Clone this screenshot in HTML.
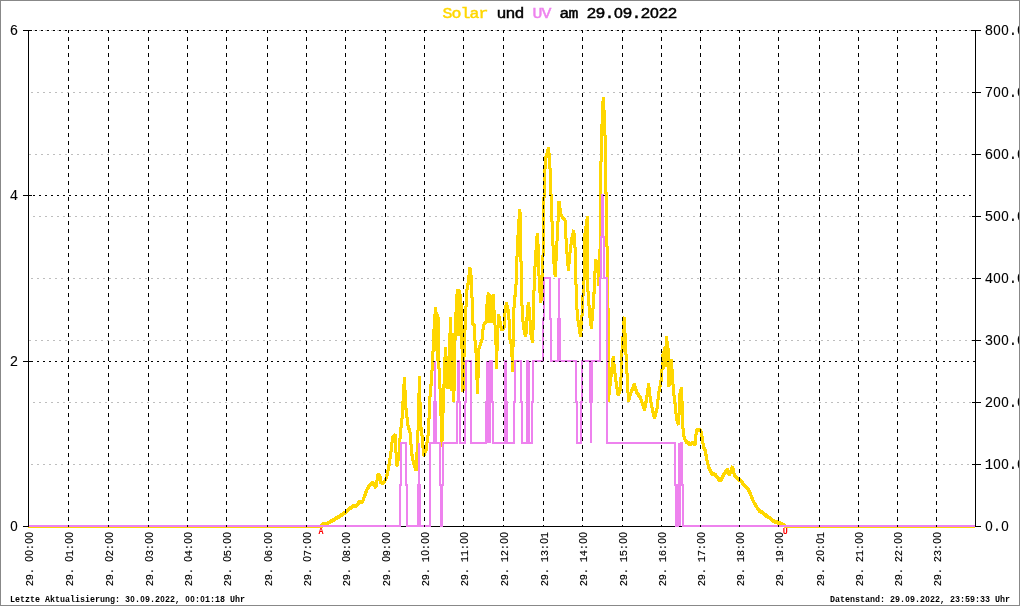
<!DOCTYPE html>
<html lang="de"><head><meta charset="utf-8"><title>Solar und UV am 29.09.2022</title>
<style>
html,body{margin:0;padding:0;background:#fff;}
body{width:1020px;height:606px;overflow:hidden;position:relative;font-family:"Liberation Mono","DejaVu Sans Mono",monospace;}
svg{will-change:transform;position:absolute;left:0;top:0;display:block;}
text{font-family:"Liberation Mono","DejaVu Sans Mono",monospace;fill:#000;}
</style></head><body>
<svg width="1020" height="606" viewBox="0 0 1020 606">
<rect x="0" y="0" width="1020" height="606" fill="#fff"/>
<g shape-rendering="crispEdges" fill="none">
<line x1="29" y1="92.5" x2="975" y2="92.5" stroke="#bebebe" stroke-dasharray="2 4" stroke-dashoffset="4"/>
<line x1="29" y1="154.5" x2="975" y2="154.5" stroke="#bebebe" stroke-dasharray="2 4" stroke-dashoffset="0"/>
<line x1="29" y1="216.5" x2="975" y2="216.5" stroke="#bebebe" stroke-dasharray="2 4" stroke-dashoffset="2"/>
<line x1="29" y1="278.5" x2="975" y2="278.5" stroke="#bebebe" stroke-dasharray="2 4" stroke-dashoffset="4"/>
<line x1="29" y1="340.5" x2="975" y2="340.5" stroke="#bebebe" stroke-dasharray="2 4" stroke-dashoffset="0"/>
<line x1="29" y1="402.5" x2="975" y2="402.5" stroke="#bebebe" stroke-dasharray="2 4" stroke-dashoffset="2"/>
<line x1="29" y1="464.5" x2="975" y2="464.5" stroke="#bebebe" stroke-dasharray="2 4" stroke-dashoffset="4"/>
<line x1="23" y1="30.5" x2="32" y2="30.5" stroke="#000"/>
<line x1="23" y1="195.5" x2="32" y2="195.5" stroke="#000"/>
<line x1="23" y1="361.5" x2="32" y2="361.5" stroke="#000"/>
<line x1="23" y1="526.5" x2="32" y2="526.5" stroke="#000"/>
<line x1="972" y1="30.5" x2="981" y2="30.5" stroke="#000"/>
<line x1="972" y1="92.5" x2="981" y2="92.5" stroke="#000"/>
<line x1="972" y1="154.5" x2="981" y2="154.5" stroke="#000"/>
<line x1="972" y1="216.5" x2="981" y2="216.5" stroke="#000"/>
<line x1="972" y1="278.5" x2="981" y2="278.5" stroke="#000"/>
<line x1="972" y1="340.5" x2="981" y2="340.5" stroke="#000"/>
<line x1="972" y1="402.5" x2="981" y2="402.5" stroke="#000"/>
<line x1="972" y1="464.5" x2="981" y2="464.5" stroke="#000"/>
<line x1="972" y1="526.5" x2="981" y2="526.5" stroke="#000"/>
</g>
<g shape-rendering="crispEdges" fill="none"><line x1="28" y1="526.5" x2="976" y2="526.5" stroke="#000"/></g>
<g fill="none" stroke="#ffd700" stroke-width="3" stroke-linejoin="bevel" shape-rendering="crispEdges">
<line x1="28" y1="526.5" x2="322" y2="526.5"/><line x1="784" y1="526.5" x2="975" y2="526.5"/>
<polyline points="321,526 322.5,524.5 323.5,523.3 324.5,524.3 326,523.7 330.4,521.3 338.8,516.2 345.3,512.1 349.5,508.4 353.6,504.8 356,506 359.6,501.2 362.5,501.2 364.9,494.7 367.3,488.2 370.2,484 372.6,481.9 375.8,487 378,474.5 379.7,474.5 380.9,482.2 383.9,482.2 386.3,477.5 388.1,469.8 389.9,459.1 390.9,451.8 392.7,436.3 395.1,434.5 395.7,447 396.9,465.4 398.7,456.5 400.4,432.8 402.2,416.1 404.4,377.3 405.8,406.6 408.2,426.8 409.9,430.4 411.7,453 413.5,462.5 416.1,469.6 417.3,447 418.3,423.3 418.9,399.5 419.3,376 420.6,423.3 422.4,438.7 423.6,455.3 426,449.5 428.4,432.5 429.8,398.9 431.5,378.7 432.7,358.5 434,329.5 435.5,306.8 436.2,349.5 437,312.5 437.7,359.5 438.5,317.5 438.8,363.5 439.6,379.5 440.6,399.5 441.8,445.5 443.5,399.5 444,384.5 445.4,346.6 446.2,386.5 447,356.5 447.8,387.5 448.6,356.5 449.4,387.5 449.8,339.5 450.5,317.5 451.8,389.5 453,333.5 453.8,401.3 455,339.5 456.5,299.5 457.5,288.8 458.2,334.5 459,288.8 459.8,329.5 460.5,294.5 461.5,311.5 461.7,334.5 462.5,369.5 463,390.5 463.6,369.5 464.5,339.5 465.4,321.1 466.6,291.4 467.8,285.4 469.9,266.9 471.7,279.5 471.9,291.4 472.5,323.5 474.5,324.5 474.9,338.9 476,351.5 477.5,392.5 479,347.8 482,338.9 483.2,327 484.4,322.9 486.2,321.1 486.8,304.5 487.4,321.5 488,295.5 488.6,292.6 489.3,321.5 490,294.5 490.7,321.5 491.4,296.5 492.1,321.5 492.7,296.5 493.3,294.4 493.9,319.5 494.5,310.4 495.1,327 496,344.3 496.5,367.5 497.3,339.5 498.7,314.5 500.4,323.5 501.6,329.4 504,327 505,311.5 506.4,302.7 508.2,310.4 509.4,323.5 509.9,338.9 511.7,344.3 512.4,370.5 513.5,327 514.1,303.3 515.9,287.8 516.9,258.3 518.5,224.5 519.9,208.8 520.7,229.5 521.2,279.5 521.8,302.1 523,321.1 524.2,330.6 525.4,335.9 526.6,329.4 527.2,311.6 528.4,302.7 529.5,310.4 530.7,331.8 532.5,341.9 533.1,327 533.7,301.5 534.3,279.5 535.4,258.3 537.2,233.5 538.5,249.5 539.1,279.5 540.8,302.1 542.5,284.5 543.3,239.5 543.6,208.8 545.3,159.3 548.6,147 550.3,171.6 551.5,208.8 552.8,240.9 554,263.2 555.2,275.6 557,240.9 559,201.3 560.9,213.7 562.7,217.4 565.1,219.9 566.4,245.9 568.4,269.4 570.1,250.8 571.8,238.5 573.8,229.8 575.5,253.3 576.1,288.9 577.3,315 579.1,326.9 580.6,335.8 582,315 583.2,291.3 584.4,273.5 585,233.5 587.4,216.2 588,291.3 589.8,315 591.3,327.5 592.7,312.5 593.9,294.8 595.6,259.5 598.1,263.2 599,284.5 599.8,269.5 600.2,233.5 600.8,169.5 601.3,149.5 602,124.5 603,101.5 603.4,97 604,109.5 604.8,124.5 605.3,149.5 605.8,179.5 606.3,211.5 607,245.5 607.8,284.5 608.2,329.5 608.2,400.8 610.7,378.5 613.2,356.2 615.6,378.5 618.1,394.6 620.6,388.4 621.8,353.8 624.3,316.6 625.5,343.9 627.3,378.5 628.5,400.8 630.5,393.4 634.3,383.5 636.7,392.1 640.4,397.1 644.6,409.5 646.6,398.3 648.6,383.5 650.3,398.3 652.8,410.7 654.5,418.1 657,408.2 659,390.9 661.4,378.5 663.2,351.3 663.9,367.5 664.6,347.5 665.3,365.5 666.4,336.4 668.4,351.3 668.9,385.9 671.3,358.7 673.3,388.4 675,403.3 676.7,419.1 678.7,424.1 679.7,394.4 681.7,386.9 682.4,416.6 683.3,433.5 684.9,438.9 686.1,441.3 688,442 690.3,444.2 692.7,442.1 695,444.2 695.6,436.5 696.8,430 698.6,429 701,430.6 702.4,438.9 703.4,446 705.1,449.5 707.1,460.7 709.5,469 711.9,473.2 715.4,474.4 719,479.1 720.8,480.3 723.2,474.9 725.5,471.4 727.3,469 729.1,474.4 730.9,470.2 732.7,466 733.9,472.6 735,475.5 738,478.5 741,480.3 744,484.5 747.5,488 749.3,490.4 751.1,495.1 753.5,501.1 757,507 759.4,510.6 763,512.4 766.5,515.4 770.1,517.7 773.7,520.7 777.2,521.9 780.8,523.1 784.4,524.5 785.5,526"/>
<polyline points="321,527 322.5,525.5 323.5,524.3 324.5,525.3 326,524.7 330.4,522.3 338.8,517.2 345.3,513.1 349.5,509.4 353.6,505.8 356,507 359.6,502.2 362.5,502.2 364.9,495.7 367.3,489.2 370.2,485 372.6,482.9 375.8,488 378,475.5 379.7,475.5 380.9,483.2 383.9,483.2 386.3,478.5 388.1,470.8 389.9,460.1 390.9,452.8 392.7,437.3 395.1,435.5 395.7,448 396.9,466.4 398.7,457.5 400.4,433.8 402.2,417.1 404.4,378.3 405.8,407.6 408.2,427.8 409.9,431.4 411.7,454 413.5,463.5 416.1,470.6 417.3,448 418.3,424.3 418.9,400.5 419.3,377 420.6,424.3 422.4,439.7 423.6,456.3 426,450.5 428.4,433.5 429.8,399.9 431.5,379.7 432.7,359.5 434,330.5 435.5,307.8 436.2,350.5 437,313.5 437.7,360.5 438.5,318.5 438.8,364.5 439.6,380.5 440.6,400.5 441.8,446.5 443.5,400.5 444,385.5 445.4,347.6 446.2,387.5 447,357.5 447.8,388.5 448.6,357.5 449.4,388.5 449.8,340.5 450.5,318.5 451.8,390.5 453,334.5 453.8,402.3 455,340.5 456.5,300.5 457.5,289.8 458.2,335.5 459,289.8 459.8,330.5 460.5,295.5 461.5,312.5 461.7,335.5 462.5,370.5 463,391.5 463.6,370.5 464.5,340.5 465.4,322.1 466.6,292.4 467.8,286.4 469.9,267.9 471.7,280.5 471.9,292.4 472.5,324.5 474.5,325.5 474.9,339.9 476,352.5 477.5,393.5 479,348.8 482,339.9 483.2,328 484.4,323.9 486.2,322.1 486.8,305.5 487.4,322.5 488,296.5 488.6,293.6 489.3,322.5 490,295.5 490.7,322.5 491.4,297.5 492.1,322.5 492.7,297.5 493.3,295.4 493.9,320.5 494.5,311.4 495.1,328 496,345.3 496.5,368.5 497.3,340.5 498.7,315.5 500.4,324.5 501.6,330.4 504,328 505,312.5 506.4,303.7 508.2,311.4 509.4,324.5 509.9,339.9 511.7,345.3 512.4,371.5 513.5,328 514.1,304.3 515.9,288.8 516.9,259.3 518.5,225.5 519.9,209.8 520.7,230.5 521.2,280.5 521.8,303.1 523,322.1 524.2,331.6 525.4,336.9 526.6,330.4 527.2,312.6 528.4,303.7 529.5,311.4 530.7,332.8 532.5,342.9 533.1,328 533.7,302.5 534.3,280.5 535.4,259.3 537.2,234.5 538.5,250.5 539.1,280.5 540.8,303.1 542.5,285.5 543.3,240.5 543.6,209.8 545.3,160.3 548.6,148 550.3,172.6 551.5,209.8 552.8,241.9 554,264.2 555.2,276.6 557,241.9 559,202.3 560.9,214.7 562.7,218.4 565.1,220.9 566.4,246.9 568.4,270.4 570.1,251.8 571.8,239.5 573.8,230.8 575.5,254.3 576.1,289.9 577.3,316 579.1,327.9 580.6,336.8 582,316 583.2,292.3 584.4,274.5 585,234.5 587.4,217.2 588,292.3 589.8,316 591.3,328.5 592.7,313.5 593.9,295.8 595.6,260.5 598.1,264.2 599,285.5 599.8,270.5 600.2,234.5 600.8,170.5 601.3,150.5 602,125.5 603,102.5 603.4,98 604,110.5 604.8,125.5 605.3,150.5 605.8,180.5 606.3,212.5 607,246.5 607.8,285.5 608.2,330.5 608.2,401.8 610.7,379.5 613.2,357.2 615.6,379.5 618.1,395.6 620.6,389.4 621.8,354.8 624.3,317.6 625.5,344.9 627.3,379.5 628.5,401.8 630.5,394.4 634.3,384.5 636.7,393.1 640.4,398.1 644.6,410.5 646.6,399.3 648.6,384.5 650.3,399.3 652.8,411.7 654.5,419.1 657,409.2 659,391.9 661.4,379.5 663.2,352.3 663.9,368.5 664.6,348.5 665.3,366.5 666.4,337.4 668.4,352.3 668.9,386.9 671.3,359.7 673.3,389.4 675,404.3 676.7,420.1 678.7,425.1 679.7,395.4 681.7,387.9 682.4,417.6 683.3,434.5 684.9,439.9 686.1,442.3 688,443 690.3,445.2 692.7,443.1 695,445.2 695.6,437.5 696.8,431 698.6,430 701,431.6 702.4,439.9 703.4,447 705.1,450.5 707.1,461.7 709.5,470 711.9,474.2 715.4,475.4 719,480.1 720.8,481.3 723.2,475.9 725.5,472.4 727.3,470 729.1,475.4 730.9,471.2 732.7,467 733.9,473.6 735,476.5 738,479.5 741,481.3 744,485.5 747.5,489 749.3,491.4 751.1,496.1 753.5,502.1 757,508 759.4,511.6 763,513.4 766.5,516.4 770.1,518.7 773.7,521.7 777.2,522.9 780.8,524.1 784.4,525.5 785.5,527"/>
</g>
<polyline points="28,526 400,526 400,485 401,485 401,443.2 406,443.2 406,485 407,485 407,526 418,526 418,485 419,485 419,443.2 419,443.2 419,485 420,485 420,526 430,526 430,443.2 434,443.2 434,402 435,402 435,360.6 435,360.6 435,402 436,402 436,443.2 440,443.2 440,485 441,485 441,526 442,526 442,485 443,485 443,443.2 457,443.2 457,402 458,402 458,360.6 459,360.6 459,402 460,402 460,443.2 465,443.2 465,402 466,402 466,360.6 471,360.6 471,443.2 486,443.2 486,402 487,402 487,360.6 487,360.6 487,402 488,402 488,443.2 488,443.2 488,402 489,402 489,360.6 489,360.6 489,402 490,402 490,443.2 490,443.2 490,360.6 492,360.6 492,402 493,402 493,443.2 505,443.2 505,360.6 506,360.6 506,402 507,402 507,443.2 514,443.2 514,402 515,402 515,360.6 521,360.6 521,402 522,402 522,443.2 527,443.2 527,360.6 528,360.6 528,443.2 528,443.2 528,402 529,402 529,360.6 529,360.6 529,443.2 532,443.2 532,402 533,402 533,360.6 543,360.6 543,319 544,319 544,278 550,278 550,319 551,319 551,360.6 558,360.6 558,319 559,319 559,278 559,278 559,319 560,319 560,360.6 576,360.6 576,402 577,402 577,443.2 581,443.2 581,402 582,402 582,360.6 590,360.6 590,402 591,402 591,443.2 591,443.2 591,402 592,402 592,360.6 600,360.6 600,278 601,278 601,237 602,237 602,195.3 603,195.3 603,237 604,237 604,278 607,278 607,443.2 675,443.2 675,485 676,485 676,526 678,526 678,485 679,485 679,443.2 679,443.2 679,485 680,485 680,526 680,526 680,485 681,485 681,443.2 682,443.2 682,485 683,485 683,526 975,526" fill="none" stroke="#ee82ee" stroke-width="2" stroke-linejoin="miter" shape-rendering="crispEdges"/>
<g shape-rendering="crispEdges" fill="none">
<line x1="33" y1="30.5" x2="975" y2="30.5" stroke="#c8c8c8" stroke-dasharray="2 4"/>
<line x1="29" y1="30.5" x2="975" y2="30.5" stroke="#000" stroke-dasharray="2 4" stroke-dashoffset="0"/>
<line x1="29" y1="195.5" x2="975" y2="195.5" stroke="#000" stroke-dasharray="2 4" stroke-dashoffset="2"/>
<line x1="29" y1="361.5" x2="975" y2="361.5" stroke="#000" stroke-dasharray="2 4" stroke-dashoffset="4"/>
<line x1="68.5" y1="30" x2="68.5" y2="527" stroke="#000" stroke-dasharray="4 4" stroke-dashoffset="1"/>
<line x1="108.5" y1="30" x2="108.5" y2="527" stroke="#000" stroke-dasharray="4 4" stroke-dashoffset="1"/>
<line x1="148.5" y1="30" x2="148.5" y2="527" stroke="#000" stroke-dasharray="4 4" stroke-dashoffset="1"/>
<line x1="187.5" y1="30" x2="187.5" y2="527" stroke="#000" stroke-dasharray="4 4" stroke-dashoffset="1"/>
<line x1="226.5" y1="30" x2="226.5" y2="527" stroke="#000" stroke-dasharray="4 4" stroke-dashoffset="1"/>
<line x1="267.5" y1="30" x2="267.5" y2="527" stroke="#000" stroke-dasharray="4 4" stroke-dashoffset="1"/>
<line x1="306.5" y1="30" x2="306.5" y2="527" stroke="#000" stroke-dasharray="4 4" stroke-dashoffset="1"/>
<line x1="345.5" y1="30" x2="345.5" y2="527" stroke="#000" stroke-dasharray="4 4" stroke-dashoffset="1"/>
<line x1="385.5" y1="30" x2="385.5" y2="527" stroke="#000" stroke-dasharray="4 4" stroke-dashoffset="1"/>
<line x1="424.5" y1="30" x2="424.5" y2="527" stroke="#000" stroke-dasharray="4 4" stroke-dashoffset="1"/>
<line x1="463.5" y1="30" x2="463.5" y2="527" stroke="#000" stroke-dasharray="4 4" stroke-dashoffset="1"/>
<line x1="503.5" y1="30" x2="503.5" y2="527" stroke="#000" stroke-dasharray="4 4" stroke-dashoffset="1"/>
<line x1="543.5" y1="30" x2="543.5" y2="527" stroke="#000" stroke-dasharray="4 4" stroke-dashoffset="1"/>
<line x1="582.5" y1="30" x2="582.5" y2="527" stroke="#000" stroke-dasharray="4 4" stroke-dashoffset="1"/>
<line x1="622.5" y1="30" x2="622.5" y2="527" stroke="#000" stroke-dasharray="4 4" stroke-dashoffset="1"/>
<line x1="661.5" y1="30" x2="661.5" y2="527" stroke="#000" stroke-dasharray="4 4" stroke-dashoffset="1"/>
<line x1="700.5" y1="30" x2="700.5" y2="527" stroke="#000" stroke-dasharray="4 4" stroke-dashoffset="1"/>
<line x1="739.5" y1="30" x2="739.5" y2="527" stroke="#000" stroke-dasharray="4 4" stroke-dashoffset="1"/>
<line x1="778.5" y1="30" x2="778.5" y2="527" stroke="#000" stroke-dasharray="4 4" stroke-dashoffset="1"/>
<line x1="819.5" y1="30" x2="819.5" y2="527" stroke="#000" stroke-dasharray="4 4" stroke-dashoffset="1"/>
<line x1="858.5" y1="30" x2="858.5" y2="527" stroke="#000" stroke-dasharray="4 4" stroke-dashoffset="1"/>
<line x1="897.5" y1="30" x2="897.5" y2="527" stroke="#000" stroke-dasharray="4 4" stroke-dashoffset="1"/>
<line x1="936.5" y1="30" x2="936.5" y2="527" stroke="#000" stroke-dasharray="4 4" stroke-dashoffset="1"/>
<line x1="28.5" y1="30" x2="28.5" y2="527" stroke="#000"/>
<line x1="975.5" y1="30" x2="975.5" y2="527" stroke="#000"/>
</g>
<text transform="translate(443,18) scale(1.1,1)" text-anchor="middle" xml:space="preserve" style="font-size:15px;stroke:#000;stroke-width:0.45px;" x="4.09 12.27 20.45 28.64 36.82 45.00 53.18 61.36 69.55 77.73 85.91 94.09 102.27 110.45 118.64 126.82 135.00 143.18 151.36 159.55 167.73 175.91 184.09 192.27 200.45 208.64"><tspan style="fill:#ffd700;stroke:#ffd700;">Solar</tspan> und <tspan style="fill:#ee82ee;stroke:#ee82ee;">UV</tspan> am 29.<tspan style="font-family:'Liberation Sans','DejaVu Sans',sans-serif;font-size:14.40px;">0</tspan>9.2<tspan style="font-family:'Liberation Sans','DejaVu Sans',sans-serif;font-size:14.40px;">0</tspan>22</text>
<text transform="translate(10,35) scale(0.93,1)" text-anchor="middle" xml:space="preserve" style="font-size:15px;stroke:#000;stroke-width:0.1px;" x="4.30">6</text>
<text transform="translate(10,200) scale(0.93,1)" text-anchor="middle" xml:space="preserve" style="font-size:15px;stroke:#000;stroke-width:0.1px;" x="4.30">4</text>
<text transform="translate(10,366) scale(0.93,1)" text-anchor="middle" xml:space="preserve" style="font-size:15px;stroke:#000;stroke-width:0.1px;" x="4.30">2</text>
<text transform="translate(10,531) scale(0.93,1)" text-anchor="middle" xml:space="preserve" style="font-size:15px;stroke:#000;stroke-width:0.1px;" x="4.30"><tspan style="font-family:'Liberation Sans','DejaVu Sans',sans-serif;font-size:14.40px;">0</tspan></text>
<text transform="translate(985,35) scale(0.93,1)" text-anchor="middle" xml:space="preserve" style="font-size:15px;stroke:#000;stroke-width:0.1px;" x="4.30 12.90 21.51 30.11 38.71">8<tspan style="font-family:'Liberation Sans','DejaVu Sans',sans-serif;font-size:14.40px;">00</tspan>.<tspan style="font-family:'Liberation Sans','DejaVu Sans',sans-serif;font-size:14.40px;">0</tspan></text>
<text transform="translate(985,97) scale(0.93,1)" text-anchor="middle" xml:space="preserve" style="font-size:15px;stroke:#000;stroke-width:0.1px;" x="4.30 12.90 21.51 30.11 38.71">7<tspan style="font-family:'Liberation Sans','DejaVu Sans',sans-serif;font-size:14.40px;">00</tspan>.<tspan style="font-family:'Liberation Sans','DejaVu Sans',sans-serif;font-size:14.40px;">0</tspan></text>
<text transform="translate(985,159) scale(0.93,1)" text-anchor="middle" xml:space="preserve" style="font-size:15px;stroke:#000;stroke-width:0.1px;" x="4.30 12.90 21.51 30.11 38.71">6<tspan style="font-family:'Liberation Sans','DejaVu Sans',sans-serif;font-size:14.40px;">00</tspan>.<tspan style="font-family:'Liberation Sans','DejaVu Sans',sans-serif;font-size:14.40px;">0</tspan></text>
<text transform="translate(985,221) scale(0.93,1)" text-anchor="middle" xml:space="preserve" style="font-size:15px;stroke:#000;stroke-width:0.1px;" x="4.30 12.90 21.51 30.11 38.71">5<tspan style="font-family:'Liberation Sans','DejaVu Sans',sans-serif;font-size:14.40px;">00</tspan>.<tspan style="font-family:'Liberation Sans','DejaVu Sans',sans-serif;font-size:14.40px;">0</tspan></text>
<text transform="translate(985,283) scale(0.93,1)" text-anchor="middle" xml:space="preserve" style="font-size:15px;stroke:#000;stroke-width:0.1px;" x="4.30 12.90 21.51 30.11 38.71">4<tspan style="font-family:'Liberation Sans','DejaVu Sans',sans-serif;font-size:14.40px;">00</tspan>.<tspan style="font-family:'Liberation Sans','DejaVu Sans',sans-serif;font-size:14.40px;">0</tspan></text>
<text transform="translate(985,345) scale(0.93,1)" text-anchor="middle" xml:space="preserve" style="font-size:15px;stroke:#000;stroke-width:0.1px;" x="4.30 12.90 21.51 30.11 38.71">3<tspan style="font-family:'Liberation Sans','DejaVu Sans',sans-serif;font-size:14.40px;">00</tspan>.<tspan style="font-family:'Liberation Sans','DejaVu Sans',sans-serif;font-size:14.40px;">0</tspan></text>
<text transform="translate(985,407) scale(0.93,1)" text-anchor="middle" xml:space="preserve" style="font-size:15px;stroke:#000;stroke-width:0.1px;" x="4.30 12.90 21.51 30.11 38.71">2<tspan style="font-family:'Liberation Sans','DejaVu Sans',sans-serif;font-size:14.40px;">00</tspan>.<tspan style="font-family:'Liberation Sans','DejaVu Sans',sans-serif;font-size:14.40px;">0</tspan></text>
<text transform="translate(985,469) scale(0.93,1)" text-anchor="middle" xml:space="preserve" style="font-size:15px;stroke:#000;stroke-width:0.1px;" x="4.30 12.90 21.51 30.11 38.71">1<tspan style="font-family:'Liberation Sans','DejaVu Sans',sans-serif;font-size:14.40px;">00</tspan>.<tspan style="font-family:'Liberation Sans','DejaVu Sans',sans-serif;font-size:14.40px;">0</tspan></text>
<text transform="translate(985,531) scale(0.93,1)" text-anchor="middle" xml:space="preserve" style="font-size:15px;stroke:#000;stroke-width:0.1px;" x="4.30 12.90 21.51"><tspan style="font-family:'Liberation Sans','DejaVu Sans',sans-serif;font-size:14.40px;">0</tspan>.<tspan style="font-family:'Liberation Sans','DejaVu Sans',sans-serif;font-size:14.40px;">0</tspan></text>
<text transform="translate(33,586) rotate(-90) scale(0.9,1)" text-anchor="middle" xml:space="preserve" style="font-size:11.6px;stroke:#000;stroke-width:0.15px;" x="3.33 10.00 16.67 23.33 30.00 36.67 43.33 50.00 56.67">29. <tspan style="font-family:'Liberation Sans','DejaVu Sans',sans-serif;font-size:11.14px;">00</tspan>:<tspan style="font-family:'Liberation Sans','DejaVu Sans',sans-serif;font-size:11.14px;">00</tspan></text>
<text transform="translate(73,586) rotate(-90) scale(0.9,1)" text-anchor="middle" xml:space="preserve" style="font-size:11.6px;stroke:#000;stroke-width:0.15px;" x="3.33 10.00 16.67 23.33 30.00 36.67 43.33 50.00 56.67">29. <tspan style="font-family:'Liberation Sans','DejaVu Sans',sans-serif;font-size:11.14px;">0</tspan>1:<tspan style="font-family:'Liberation Sans','DejaVu Sans',sans-serif;font-size:11.14px;">00</tspan></text>
<text transform="translate(113,586) rotate(-90) scale(0.9,1)" text-anchor="middle" xml:space="preserve" style="font-size:11.6px;stroke:#000;stroke-width:0.15px;" x="3.33 10.00 16.67 23.33 30.00 36.67 43.33 50.00 56.67">29. <tspan style="font-family:'Liberation Sans','DejaVu Sans',sans-serif;font-size:11.14px;">0</tspan>2:<tspan style="font-family:'Liberation Sans','DejaVu Sans',sans-serif;font-size:11.14px;">00</tspan></text>
<text transform="translate(153,586) rotate(-90) scale(0.9,1)" text-anchor="middle" xml:space="preserve" style="font-size:11.6px;stroke:#000;stroke-width:0.15px;" x="3.33 10.00 16.67 23.33 30.00 36.67 43.33 50.00 56.67">29. <tspan style="font-family:'Liberation Sans','DejaVu Sans',sans-serif;font-size:11.14px;">0</tspan>3:<tspan style="font-family:'Liberation Sans','DejaVu Sans',sans-serif;font-size:11.14px;">00</tspan></text>
<text transform="translate(192,586) rotate(-90) scale(0.9,1)" text-anchor="middle" xml:space="preserve" style="font-size:11.6px;stroke:#000;stroke-width:0.15px;" x="3.33 10.00 16.67 23.33 30.00 36.67 43.33 50.00 56.67">29. <tspan style="font-family:'Liberation Sans','DejaVu Sans',sans-serif;font-size:11.14px;">0</tspan>4:<tspan style="font-family:'Liberation Sans','DejaVu Sans',sans-serif;font-size:11.14px;">00</tspan></text>
<text transform="translate(231,586) rotate(-90) scale(0.9,1)" text-anchor="middle" xml:space="preserve" style="font-size:11.6px;stroke:#000;stroke-width:0.15px;" x="3.33 10.00 16.67 23.33 30.00 36.67 43.33 50.00 56.67">29. <tspan style="font-family:'Liberation Sans','DejaVu Sans',sans-serif;font-size:11.14px;">0</tspan>5:<tspan style="font-family:'Liberation Sans','DejaVu Sans',sans-serif;font-size:11.14px;">00</tspan></text>
<text transform="translate(272,586) rotate(-90) scale(0.9,1)" text-anchor="middle" xml:space="preserve" style="font-size:11.6px;stroke:#000;stroke-width:0.15px;" x="3.33 10.00 16.67 23.33 30.00 36.67 43.33 50.00 56.67">29. <tspan style="font-family:'Liberation Sans','DejaVu Sans',sans-serif;font-size:11.14px;">0</tspan>6:<tspan style="font-family:'Liberation Sans','DejaVu Sans',sans-serif;font-size:11.14px;">00</tspan></text>
<text transform="translate(311,586) rotate(-90) scale(0.9,1)" text-anchor="middle" xml:space="preserve" style="font-size:11.6px;stroke:#000;stroke-width:0.15px;" x="3.33 10.00 16.67 23.33 30.00 36.67 43.33 50.00 56.67">29. <tspan style="font-family:'Liberation Sans','DejaVu Sans',sans-serif;font-size:11.14px;">0</tspan>7:<tspan style="font-family:'Liberation Sans','DejaVu Sans',sans-serif;font-size:11.14px;">00</tspan></text>
<text transform="translate(350,586) rotate(-90) scale(0.9,1)" text-anchor="middle" xml:space="preserve" style="font-size:11.6px;stroke:#000;stroke-width:0.15px;" x="3.33 10.00 16.67 23.33 30.00 36.67 43.33 50.00 56.67">29. <tspan style="font-family:'Liberation Sans','DejaVu Sans',sans-serif;font-size:11.14px;">0</tspan>8:<tspan style="font-family:'Liberation Sans','DejaVu Sans',sans-serif;font-size:11.14px;">00</tspan></text>
<text transform="translate(390,586) rotate(-90) scale(0.9,1)" text-anchor="middle" xml:space="preserve" style="font-size:11.6px;stroke:#000;stroke-width:0.15px;" x="3.33 10.00 16.67 23.33 30.00 36.67 43.33 50.00 56.67">29. <tspan style="font-family:'Liberation Sans','DejaVu Sans',sans-serif;font-size:11.14px;">0</tspan>9:<tspan style="font-family:'Liberation Sans','DejaVu Sans',sans-serif;font-size:11.14px;">00</tspan></text>
<text transform="translate(429,586) rotate(-90) scale(0.9,1)" text-anchor="middle" xml:space="preserve" style="font-size:11.6px;stroke:#000;stroke-width:0.15px;" x="3.33 10.00 16.67 23.33 30.00 36.67 43.33 50.00 56.67">29. 1<tspan style="font-family:'Liberation Sans','DejaVu Sans',sans-serif;font-size:11.14px;">0</tspan>:<tspan style="font-family:'Liberation Sans','DejaVu Sans',sans-serif;font-size:11.14px;">00</tspan></text>
<text transform="translate(468,586) rotate(-90) scale(0.9,1)" text-anchor="middle" xml:space="preserve" style="font-size:11.6px;stroke:#000;stroke-width:0.15px;" x="3.33 10.00 16.67 23.33 30.00 36.67 43.33 50.00 56.67">29. 11:<tspan style="font-family:'Liberation Sans','DejaVu Sans',sans-serif;font-size:11.14px;">00</tspan></text>
<text transform="translate(508,586) rotate(-90) scale(0.9,1)" text-anchor="middle" xml:space="preserve" style="font-size:11.6px;stroke:#000;stroke-width:0.15px;" x="3.33 10.00 16.67 23.33 30.00 36.67 43.33 50.00 56.67">29. 12:<tspan style="font-family:'Liberation Sans','DejaVu Sans',sans-serif;font-size:11.14px;">00</tspan></text>
<text transform="translate(548,586) rotate(-90) scale(0.9,1)" text-anchor="middle" xml:space="preserve" style="font-size:11.6px;stroke:#000;stroke-width:0.15px;" x="3.33 10.00 16.67 23.33 30.00 36.67 43.33 50.00 56.67">29. 13:<tspan style="font-family:'Liberation Sans','DejaVu Sans',sans-serif;font-size:11.14px;">0</tspan>1</text>
<text transform="translate(587,586) rotate(-90) scale(0.9,1)" text-anchor="middle" xml:space="preserve" style="font-size:11.6px;stroke:#000;stroke-width:0.15px;" x="3.33 10.00 16.67 23.33 30.00 36.67 43.33 50.00 56.67">29. 14:<tspan style="font-family:'Liberation Sans','DejaVu Sans',sans-serif;font-size:11.14px;">00</tspan></text>
<text transform="translate(627,586) rotate(-90) scale(0.9,1)" text-anchor="middle" xml:space="preserve" style="font-size:11.6px;stroke:#000;stroke-width:0.15px;" x="3.33 10.00 16.67 23.33 30.00 36.67 43.33 50.00 56.67">29. 15:<tspan style="font-family:'Liberation Sans','DejaVu Sans',sans-serif;font-size:11.14px;">00</tspan></text>
<text transform="translate(666,586) rotate(-90) scale(0.9,1)" text-anchor="middle" xml:space="preserve" style="font-size:11.6px;stroke:#000;stroke-width:0.15px;" x="3.33 10.00 16.67 23.33 30.00 36.67 43.33 50.00 56.67">29. 16:<tspan style="font-family:'Liberation Sans','DejaVu Sans',sans-serif;font-size:11.14px;">00</tspan></text>
<text transform="translate(705,586) rotate(-90) scale(0.9,1)" text-anchor="middle" xml:space="preserve" style="font-size:11.6px;stroke:#000;stroke-width:0.15px;" x="3.33 10.00 16.67 23.33 30.00 36.67 43.33 50.00 56.67">29. 17:<tspan style="font-family:'Liberation Sans','DejaVu Sans',sans-serif;font-size:11.14px;">00</tspan></text>
<text transform="translate(744,586) rotate(-90) scale(0.9,1)" text-anchor="middle" xml:space="preserve" style="font-size:11.6px;stroke:#000;stroke-width:0.15px;" x="3.33 10.00 16.67 23.33 30.00 36.67 43.33 50.00 56.67">29. 18:<tspan style="font-family:'Liberation Sans','DejaVu Sans',sans-serif;font-size:11.14px;">00</tspan></text>
<text transform="translate(783,586) rotate(-90) scale(0.9,1)" text-anchor="middle" xml:space="preserve" style="font-size:11.6px;stroke:#000;stroke-width:0.15px;" x="3.33 10.00 16.67 23.33 30.00 36.67 43.33 50.00 56.67">29. 19:<tspan style="font-family:'Liberation Sans','DejaVu Sans',sans-serif;font-size:11.14px;">00</tspan></text>
<text transform="translate(824,586) rotate(-90) scale(0.9,1)" text-anchor="middle" xml:space="preserve" style="font-size:11.6px;stroke:#000;stroke-width:0.15px;" x="3.33 10.00 16.67 23.33 30.00 36.67 43.33 50.00 56.67">29. 2<tspan style="font-family:'Liberation Sans','DejaVu Sans',sans-serif;font-size:11.14px;">0</tspan>:<tspan style="font-family:'Liberation Sans','DejaVu Sans',sans-serif;font-size:11.14px;">0</tspan>1</text>
<text transform="translate(863,586) rotate(-90) scale(0.9,1)" text-anchor="middle" xml:space="preserve" style="font-size:11.6px;stroke:#000;stroke-width:0.15px;" x="3.33 10.00 16.67 23.33 30.00 36.67 43.33 50.00 56.67">29. 21:<tspan style="font-family:'Liberation Sans','DejaVu Sans',sans-serif;font-size:11.14px;">00</tspan></text>
<text transform="translate(902,586) rotate(-90) scale(0.9,1)" text-anchor="middle" xml:space="preserve" style="font-size:11.6px;stroke:#000;stroke-width:0.15px;" x="3.33 10.00 16.67 23.33 30.00 36.67 43.33 50.00 56.67">29. 22:<tspan style="font-family:'Liberation Sans','DejaVu Sans',sans-serif;font-size:11.14px;">00</tspan></text>
<text transform="translate(941,586) rotate(-90) scale(0.9,1)" text-anchor="middle" xml:space="preserve" style="font-size:11.6px;stroke:#000;stroke-width:0.15px;" x="3.33 10.00 16.67 23.33 30.00 36.67 43.33 50.00 56.67">29. 23:<tspan style="font-family:'Liberation Sans','DejaVu Sans',sans-serif;font-size:11.14px;">00</tspan></text>
<text transform="translate(10,602) scale(0.9,1)" text-anchor="middle" xml:space="preserve" style="font-size:9.3px;font-weight:bold;" x="2.78 8.33 13.89 19.44 25.00 30.56 36.11 41.67 47.22 52.78 58.33 63.89 69.44 75.00 80.56 86.11 91.67 97.22 102.78 108.33 113.89 119.44 125.00 130.56 136.11 141.67 147.22 152.78 158.33 163.89 169.44 175.00 180.56 186.11 191.67 197.22 202.78 208.33 213.89 219.44 225.00 230.56 236.11 241.67 247.22 252.78 258.33">Letzte Aktualisierung: 3<tspan style="font-family:'Liberation Sans','DejaVu Sans',sans-serif;font-size:8.93px;">0</tspan>.<tspan style="font-family:'Liberation Sans','DejaVu Sans',sans-serif;font-size:8.93px;">0</tspan>9.2<tspan style="font-family:'Liberation Sans','DejaVu Sans',sans-serif;font-size:8.93px;">0</tspan>22, <tspan style="font-family:'Liberation Sans','DejaVu Sans',sans-serif;font-size:8.93px;">00</tspan>:<tspan style="font-family:'Liberation Sans','DejaVu Sans',sans-serif;font-size:8.93px;">0</tspan>1:18 Uhr</text>
<text transform="translate(830,602) scale(0.9,1)" text-anchor="middle" xml:space="preserve" style="font-size:9.3px;font-weight:bold;" x="2.78 8.33 13.89 19.44 25.00 30.56 36.11 41.67 47.22 52.78 58.33 63.89 69.44 75.00 80.56 86.11 91.67 97.22 102.78 108.33 113.89 119.44 125.00 130.56 136.11 141.67 147.22 152.78 158.33 163.89 169.44 175.00 180.56 186.11 191.67 197.22">Datenstand: 29.<tspan style="font-family:'Liberation Sans','DejaVu Sans',sans-serif;font-size:8.93px;">0</tspan>9.2<tspan style="font-family:'Liberation Sans','DejaVu Sans',sans-serif;font-size:8.93px;">0</tspan>22, 23:59:33 Uhr</text>
<text transform="translate(318.5,534) scale(0.9,1)" text-anchor="middle" xml:space="preserve" style="font-size:9.3px;font-weight:bold;fill:#ff0000;" x="2.78">A</text>
<text transform="translate(782.7,534) scale(0.9,1)" text-anchor="middle" xml:space="preserve" style="font-size:9.3px;font-weight:bold;fill:#ff0000;" x="2.78">U</text>
<g shape-rendering="crispEdges"><rect x="0.5" y="0.5" width="1019" height="605" fill="none" stroke="#888"/></g>
</svg></body></html>
